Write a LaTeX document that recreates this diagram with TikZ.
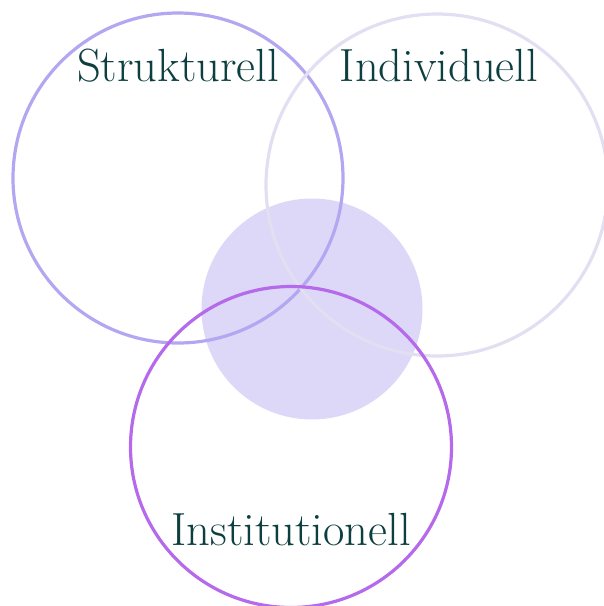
\documentclass[tikz,border=0pt]{standalone}
\usepackage{fontspec}
\setmainfont{Latin Modern Roman}
\usepackage{tikz}

\definecolor{strukcol}{HTML}{B4A7F2}
\definecolor{indivcol}{HTML}{E2DFF2}
\definecolor{instcol}{HTML}{B46AEB}
\definecolor{kerncol}{HTML}{DDD7F8}
\definecolor{labelcol}{HTML}{0E3F40}

\begin{document}
\begin{tikzpicture}[x=1pt,y=-1pt,
    ring/.style={line width=3.2pt},
    title/.style={anchor=base,text=labelcol,font=\fontsize{46.5}{50}\selectfont,inner sep=0pt}]
        \useasboundingbox (0,0) rectangle (604,606);

        \fill[kerncol] (312,309) circle (110.5);

        \draw[ring,strukcol] (178,178) circle (165);
        \draw[ring,indivcol] (437,185) circle (171);
        \draw[ring,instcol] (291,447) circle (160.5);

        \node[title] (struk) at (178,81) {Strukturell};
        \node[title] (indiv) at (439,81) {Individuell};
        \node[title] (inst) at (291,545) {Institutionell};
    \end{tikzpicture}
\end{document}
